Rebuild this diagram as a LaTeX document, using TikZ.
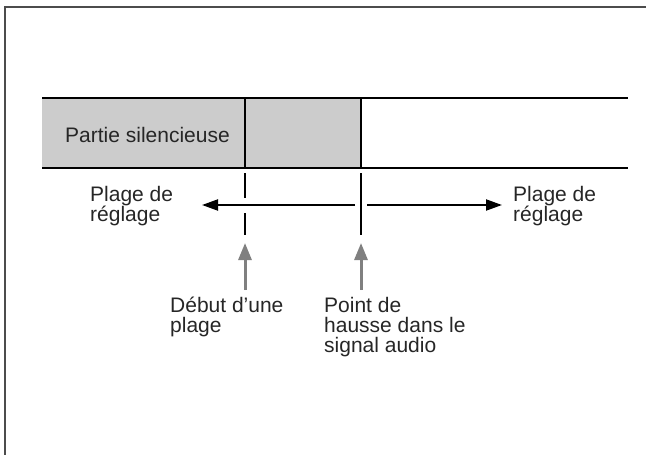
\documentclass[tikz,border=0pt]{standalone}
\usepackage{fontspec}
\setmainfont{Liberation Sans}
\usetikzlibrary{arrows.meta}
\begin{document}
\begin{tikzpicture}[x=1pt,y=-1pt,font=\fontsize{21}{20}\selectfont,
  lbl/.style={align=left,inner sep=0pt,anchor=base west,text=black!85},
  rng/.style={line width=2pt,-{Triangle[length=16pt,width=11pt]}},
  ptr/.style={line width=3pt,draw=black!50,fill=black!50,-{Triangle[length=17pt,width=13pt]}}]
\useasboundingbox (0,0) rectangle (646,455);
\draw[line width=1.2pt,black!70] (5,455) -- (5,7) -- (646,7);
\fill[black!20] (42,97.5) rectangle (361,167.5);
\draw[line width=2pt] (42,97.5) -- (628,97.5);
\draw[line width=2pt] (42,167.5) -- (628,167.5);
\draw[line width=1.2pt] (245,97.5) -- (245,167.5);
\draw[line width=1.2pt] (361,97.5) -- (361,167.5);
\node[lbl] (silence) at (65,142) {Partie silencieuse};
\coordinate (start) at (245,205);
\coordinate (rise) at (361,205);
\draw[line width=1.2pt] (245,173) -- (245,198) (245,213) -- (245,235);
\draw[line width=1.2pt] (361,173) -- (361,235);
\coordinate (lefttip) at (202,205);
\coordinate (righttip) at (502,205);
\draw[rng] ([xshift=-6pt]rise) -- (lefttip);
\draw[rng] ([xshift=6pt]rise) -- (righttip);
\node[lbl] (rangeL) at (90,221) {Plage de\\réglage};
\node[lbl] (rangeR) at (513,221) {Plage de\\réglage};
\node[lbl] (startlbl) at (170,332) {Début d’une\\plage};
\node[lbl] (riselbl) at (324,352) {Point de\\hausse dans le\\signal audio};
\draw[ptr] (245,290) -- (245,243);
\draw[ptr] (361,290) -- (361,243);
\end{tikzpicture}
\end{document}
